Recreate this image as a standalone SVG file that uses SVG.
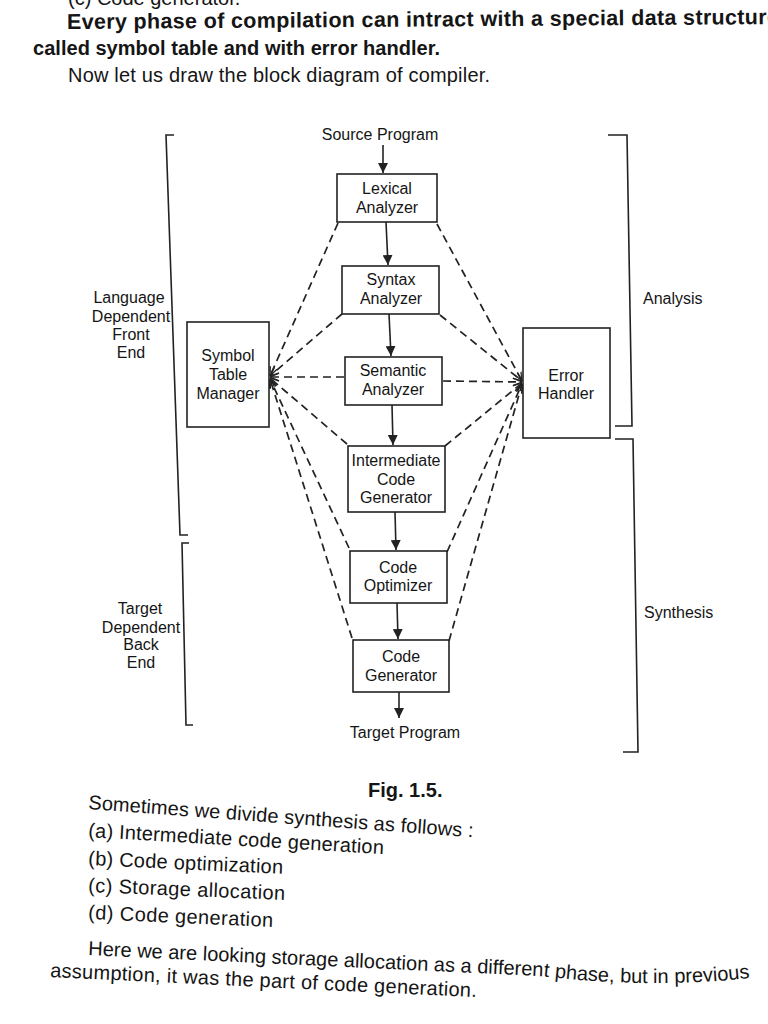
<svg xmlns="http://www.w3.org/2000/svg" width="768" height="1024" viewBox="0 0 768 1024">
<style>
.body{font-family:"Liberation Sans",Arial,sans-serif;font-size:20px;fill:#151515}
.bold{font-family:"Liberation Sans",Arial,sans-serif;font-size:20px;font-weight:bold;fill:#151515}
.lbl{font-family:"Liberation Sans",Arial,sans-serif;font-size:16px;fill:#151515;text-anchor:middle}
.lbls{font-family:"Liberation Sans",Arial,sans-serif;font-size:16px;fill:#151515}
.box{fill:#fff;stroke:#222;stroke-width:1.6}
.flow{stroke:#222;stroke-width:1.6;fill:none;marker-end:url(#solid)}
.dash{stroke:#222;stroke-width:1.7;fill:none;stroke-dasharray:8 5;marker-end:url(#open)}
.brk{stroke:#222;stroke-width:1.6;fill:none}
</style>
<defs>
<marker id="solid" viewBox="0 0 10 10" refX="10" refY="5" markerWidth="10" markerHeight="10" markerUnits="userSpaceOnUse" orient="auto">
<path d="M0,0 L10,5 L0,10 z" fill="#222"/>
</marker>
<marker id="open" viewBox="0 0 10 10" refX="10" refY="5" markerWidth="9" markerHeight="9" markerUnits="userSpaceOnUse" orient="auto">
<path d="M0,1 L10,5 L0,9" fill="none" stroke="#222" stroke-width="1.4" stroke-dasharray="none"/>
</marker>
</defs>
<rect width="768" height="1024" fill="#fff"/>

<g id="page-text-top">
<text class="body" x="68" y="5">(c) Code generator.</text>
<text class="bold" x="67" y="29" style="font-size:21.5px" textLength="712" transform="rotate(-0.4 67 29)">Every phase of compilation can intract with a special data structure</text>
<text class="bold" x="33" y="55" textLength="407">called symbol table and with error handler.</text>
<text class="body" x="68" y="82" textLength="422">Now let us draw the block diagram of compiler.</text>
</g>

<g id="brackets">
<polyline class="brk" points="174,135 166,135 180,535 188,535"/>
<polyline class="brk" points="189,543 182,543 186,725 193,725"/>
<polyline class="brk" points="608,135 627,135 632,426 615,426"/>
<polyline class="brk" points="615,439 633,439 638,752 623,752"/>
<text class="lbl" x="129" y="303">Language</text>
<text class="lbl" x="131" y="322">Dependent</text>
<text class="lbl" x="131" y="340">Front</text>
<text class="lbl" x="131" y="358">End</text>
<text class="lbl" x="140" y="614">Target</text>
<text class="lbl" x="141" y="633">Dependent</text>
<text class="lbl" x="141" y="650">Back</text>
<text class="lbl" x="141" y="668">End</text>
<text class="lbls" x="643" y="304">Analysis</text>
<text class="lbls" x="644" y="618">Synthesis</text>
</g>

<g id="connectors">
<line class="flow" x1="383" y1="145" x2="383" y2="173"/>
<line class="flow" x1="386" y1="222" x2="388" y2="265"/>
<line class="flow" x1="389" y1="314" x2="391" y2="356"/>
<line class="flow" x1="392" y1="405" x2="393" y2="445"/>
<line class="flow" x1="395" y1="512" x2="396" y2="550"/>
<line class="flow" x1="397" y1="603" x2="398" y2="639"/>
<line class="flow" x1="399" y1="692" x2="399" y2="718"/>
<line class="dash" x1="338" y1="223" x2="270" y2="376"/>
<line class="dash" x1="342" y1="314" x2="270" y2="376"/>
<line class="dash" x1="344" y1="377" x2="270" y2="377"/>
<line class="dash" x1="347" y1="444" x2="270" y2="378"/>
<line class="dash" x1="349" y1="548" x2="270" y2="379"/>
<line class="dash" x1="352" y1="638" x2="270" y2="379"/>
<line class="dash" x1="437" y1="224" x2="522" y2="381"/>
<line class="dash" x1="440" y1="315" x2="522" y2="381"/>
<line class="dash" x1="443" y1="381" x2="522" y2="382"/>
<line class="dash" x1="445" y1="446" x2="522" y2="383"/>
<line class="dash" x1="447" y1="552" x2="522" y2="384"/>
<line class="dash" x1="449" y1="641" x2="522" y2="384"/>
</g>

<g id="source-program"><text class="lbl" x="380" y="140">Source Program</text></g>
<g id="lexical-analyzer">
<rect class="box" x="337" y="174" width="100" height="48"/>
<text class="lbl" x="387" y="194">Lexical</text>
<text class="lbl" x="387" y="213">Analyzer</text>
</g>
<g id="syntax-analyzer">
<rect class="box" x="342" y="266" width="97" height="48"/>
<text class="lbl" x="391" y="285">Syntax</text>
<text class="lbl" x="391" y="304">Analyzer</text>
</g>
<g id="semantic-analyzer">
<rect class="box" x="345" y="357" width="97" height="48"/>
<text class="lbl" x="393" y="376">Semantic</text>
<text class="lbl" x="393" y="395">Analyzer</text>
</g>
<g id="intermediate-code-generator">
<rect class="box" x="348" y="446" width="97" height="66"/>
<text class="lbl" x="396" y="466">Intermediate</text>
<text class="lbl" x="396" y="485">Code</text>
<text class="lbl" x="396" y="503">Generator</text>
</g>
<g id="code-optimizer">
<rect class="box" x="350" y="551" width="97" height="52"/>
<text class="lbl" x="398" y="573">Code</text>
<text class="lbl" x="398" y="591">Optimizer</text>
</g>
<g id="code-generator">
<rect class="box" x="353" y="640" width="96" height="52"/>
<text class="lbl" x="401" y="662">Code</text>
<text class="lbl" x="401" y="681">Generator</text>
</g>
<g id="target-program"><text class="lbl" x="405" y="738">Target Program</text></g>
<g id="symbol-table-manager">
<rect class="box" x="187" y="322" width="82" height="105"/>
<text class="lbl" x="228" y="361">Symbol</text>
<text class="lbl" x="228" y="380">Table</text>
<text class="lbl" x="228" y="399">Manager</text>
</g>
<g id="error-handler">
<rect class="box" x="523" y="328" width="87" height="110"/>
<text class="lbl" x="566" y="381">Error</text>
<text class="lbl" x="566" y="399">Handler</text>
</g>

<g id="page-text-bottom">
<text class="bold" x="368" y="797">Fig. 1.5.</text>
<text class="body" x="88" y="809" textLength="386" transform="rotate(4.2 88 809)">Sometimes we divide synthesis as follows :</text>
<text class="body" x="88" y="837" textLength="296" transform="rotate(3.3 88 837)">(a) Intermediate code generation</text>
<text class="body" x="88" y="865" textLength="195" transform="rotate(2.6 88 865)">(b) Code optimization</text>
<text class="body" x="88" y="892" textLength="197" transform="rotate(2.3 88 892)">(c) Storage allocation</text>
<text class="body" x="88" y="919" textLength="185" transform="rotate(2.5 88 919)">(d) Code generation</text>
<path id="herePath" d="M88,955 L540,976 Q660,990 766,976" fill="none"/>
<text class="body"><textPath href="#herePath">Here we are looking storage allocation as a different phase, but in previous</textPath></text>
<text class="body" x="50" y="977" textLength="427" transform="rotate(2.7 50 977)">assumption, it was the part of code generation.</text>
</g>
</svg>
